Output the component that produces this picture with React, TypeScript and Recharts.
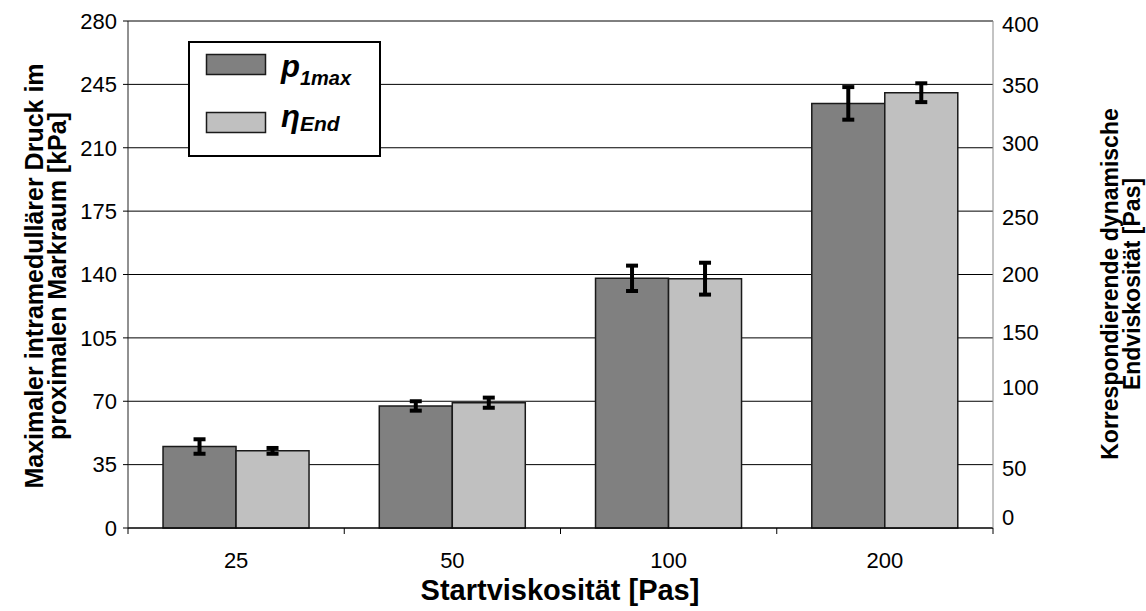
import React from 'react'
import { BarChart, Bar, XAxis, YAxis, CartesianGrid, ErrorBar, Legend } from 'recharts'

// Startviskosität [Pas]
const categories = ['25', '50', '100', '200']
// p1max in kPa (left scale) with error
const p1max = [45, 67.4, 137.9, 234.5]
const p1maxErr = [4, 2.6, 7, 9]
// ηEnd, read on the left grid (right axis shares the same scale positions)
const etaEnd = [42.6, 69.2, 137.7, 240.4]
const etaEndErr = [1.6, 2.8, 8.8, 5.2]

const leftTicks = [0, 35, 70, 105, 140, 175, 210, 245, 280]
const rightTickLabels = ['0', '50', '100', '150', '200', '250', '300', '350', '400']
// the right labels are not evenly placed in the original, nudge them (px)
const rightLabelShift = [-11, 3, -14, -6, 0, 6, -5, 1, 3]

const data = categories.map((c, i) => ({
  cat: c,
  p1max: p1max[i],
  p1maxErr: p1maxErr[i],
  etaEnd: etaEnd[i],
  etaEndErr: etaEndErr[i],
}))

const W = 1146
const H = 611
const LEFT_W = 128
const RIGHT_W = 153
const TOP = 21
const XAXIS_H = 83
const bandHalf = (W - LEFT_W - RIGHT_W) / categories.length / 2

const FONT = 'Liberation Sans, Arial, sans-serif'
const DARK = '#808080'
const LIGHT = '#c0c0c0'
const EDGE = '#1a1a1a'

const XTick = ({ x, y, payload, index }: any) => (
  <g>
    <line x1={x - bandHalf} x2={x - bandHalf} y1={y} y2={y + 6} stroke="#000" />
    {index === categories.length - 1 && (
      <line x1={x + bandHalf} x2={x + bandHalf} y1={y} y2={y + 6} stroke="#000" />
    )}
    <text x={x} y={y + 40} textAnchor="middle" fontSize={22} fontFamily={FONT} fill="#000">
      {payload.value}
    </text>
  </g>
)

const RightTick = ({ x, y, payload }: any) => {
  const i = leftTicks.indexOf(payload.value)
  return (
    <text x={x} y={y + rightLabelShift[i]} dy="0.36em" textAnchor="start" fontSize={22} fontFamily={FONT} fill="#000">
      {rightTickLabels[i]}
    </text>
  )
}

const LeftTitle = () => (
  <text transform="rotate(-90, 46, 276)" x={46} y={276} textAnchor="middle" fontSize={25} fontWeight="bold" fontFamily={FONT} fill="#000">
    <tspan x={46} dy={-3}>Maximaler intramedullärer Druck im</tspan>
    <tspan x={46} dy={23}>proximalen Markraum [kPa]</tspan>
  </text>
)

const RightTitle = () => (
  <text transform="rotate(-90, 1122, 284)" x={1122} y={284} textAnchor="middle" fontSize={23} fontWeight="bold" fontFamily={FONT} fill="#000">
    <tspan x={1122} dy={-4}>Korrespondierende dynamische</tspan>
    <tspan x={1122} dy={22}>Endviskosität [Pas]</tspan>
  </text>
)

const XTitle = () => (
  <text x={560} y={600} textAnchor="middle" fontSize={29} fontWeight="bold" fontFamily={FONT} fill="#000">
    Startviskosität [Pas]
  </text>
)

const LegendBox = () => (
  <svg width={194} height={117} style={{ display: 'block' }}>
    <rect x={1} y={1} width={191} height={114} fill="#fff" stroke="#000" strokeWidth={2} />
    <rect x={18.5} y={13.5} width={59} height={20} fill={DARK} stroke={EDGE} strokeWidth={1.5} />
    <text x={93} y={36} fontFamily={FONT} fontWeight="bold" fontStyle="italic" fontSize={31} fill="#000">
      p<tspan fontSize={20} dy={8}>1max</tspan>
    </text>
    <rect x={18.5} y={71.5} width={59} height={20} fill={LIGHT} stroke={EDGE} strokeWidth={1.5} />
    <text x={93} y={86} fontFamily={FONT} fontWeight="bold" fontStyle="italic" fontSize={31} fill="#000">
      η<tspan fontSize={21} dy={4}>End</tspan>
    </text>
  </svg>
)

export default function App() {
  return (
    <div style={{ position: 'absolute', left: 0, top: 0, background: '#fff' }}>
      <BarChart
        width={W}
        height={H}
        data={data}
        margin={{ top: TOP, right: 0, bottom: 0, left: 0 }}
        barCategoryGap="16.2%"
        barGap={0}
      >
        <CartesianGrid yAxisId="left" vertical={false} stroke="#000" strokeWidth={1} horizontalValues={leftTicks} />
        <XAxis
          dataKey="cat"
          height={XAXIS_H}
          axisLine={{ stroke: '#000' }}
          tickLine={false}
          tickSize={0}
          tickMargin={0}
          tick={<XTick />}
          interval={0}
          label={{ content: <XTitle /> }}
        />
        <YAxis
          yAxisId="left"
          width={LEFT_W}
          domain={[0, 280]}
          ticks={leftTicks}
          interval={0}
          axisLine={{ stroke: '#222' }}
          tickLine={{ stroke: '#000' }}
          tickSize={5}
          tickMargin={6}
          tick={{ fill: '#000', fontSize: 22, fontFamily: FONT }}
          label={{ content: <LeftTitle /> }}
        />
        <YAxis
          yAxisId="right"
          orientation="right"
          width={RIGHT_W}
          domain={[0, 280]}
          ticks={leftTicks}
          interval={0}
          axisLine={{ stroke: '#888' }}
          tickLine={false}
          tickSize={0}
          tickMargin={9}
          tick={<RightTick />}
          label={{ content: <RightTitle /> }}
        />
        <Legend
          layout="vertical"
          align="center"
          verticalAlign="middle"
          wrapperStyle={{ left: 188, top: 41, width: 194, height: 117 }}
          content={<LegendBox />}
        />
        <Bar yAxisId="left" dataKey="p1max" name="p1max" fill={DARK} stroke={EDGE} strokeWidth={1.5} isAnimationActive={false}>
          <ErrorBar dataKey="p1maxErr" stroke="#000" strokeWidth={4} width={6} />
        </Bar>
        <Bar yAxisId="right" dataKey="etaEnd" name="ηEnd" fill={LIGHT} stroke={EDGE} strokeWidth={1.5} isAnimationActive={false}>
          <ErrorBar dataKey="etaEndErr" stroke="#000" strokeWidth={4} width={6} />
        </Bar>
      </BarChart>
    </div>
  )
}
